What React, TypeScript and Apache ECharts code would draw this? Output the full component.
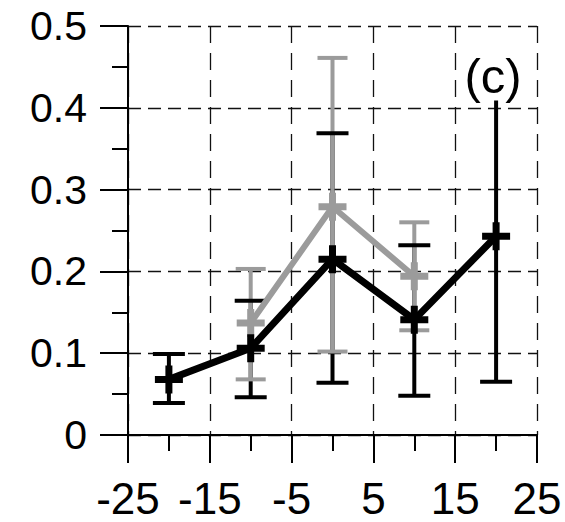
import React, { useEffect, useRef } from "react";
import * as echarts from "echarts";

// x positions and values
const xBlack = [-20, -10, 0, 10, 20];
const yBlack = [0.068, 0.106, 0.215, 0.141, 0.243];
const lowBlack = [0.039, 0.046, 0.064, 0.048, 0.065];
const highBlack = [0.099, 0.164, 0.369, 0.232, 0.42];

const xGray = [-10, 0, 10];
const yGray = [0.137, 0.279, 0.194];
const lowGray = [0.068, 0.102, 0.128];
const highGray = [0.203, 0.461, 0.26];

const panelLabel = "(c)";

const FONT = "'Liberation Sans', Arial, sans-serif";
const BLACK = "#000000";
const GRAY = "#9b9b9b";
const PLUS = "path://M10.5,0H17.5V10.5H28V17.5H17.5V28H10.5V17.5H0V10.5H10.5Z";

function errorSeries(
  xs: number[], lo: number[], hi: number[], color: string, lw: number, capHalf: number, z: number,
  showStem: boolean, showCaps: boolean
) {
  return {
    type: "custom",
    z,
    silent: true,
    encode: { x: 0, y: [1, 2] },
    data: xs.map((x, i) => [x, lo[i], hi[i]]),
    renderItem: (_params: any, api: any) => {
      const x = api.value(0);
      const pLo = api.coord([x, api.value(1)]);
      const pHi = api.coord([x, api.value(2)]);
      const style = { stroke: color, lineWidth: lw };
      const children: any[] = [];
      if (showStem) children.push({ type: "line", shape: { x1: pLo[0], y1: pLo[1], x2: pHi[0], y2: pHi[1] }, style });
      if (showCaps) {
        children.push({ type: "line", shape: { x1: pLo[0] - capHalf, y1: pLo[1], x2: pLo[0] + capHalf, y2: pLo[1] }, style });
        children.push({ type: "line", shape: { x1: pHi[0] - capHalf, y1: pHi[1], x2: pHi[0] + capHalf, y2: pHi[1] }, style });
      }
      return { type: "group", children };
    },
  };
}

export default function App() {
  const ref = useRef<HTMLDivElement>(null);
  useEffect(() => {
    if (!ref.current) return;
    const chart = echarts.init(ref.current, undefined, { renderer: "svg" });
    const axisCommon = {
      type: "value" as const,
      axisLine: { show: true, onZero: false, lineStyle: { color: BLACK, width: 2 } },
      axisTick: { show: true, inside: false, length: 28, lineStyle: { color: BLACK, width: 2 } },
      minorTick: { show: true, splitNumber: 2, length: 16, lineStyle: { color: BLACK, width: 2 } },
    };
    chart.setOption({
      animation: false,
      backgroundColor: "#ffffff",
      grid: { left: 128, top: 26, right: 28, bottom: 87, containLabel: false },
      xAxis: {
        ...axisCommon,
        min: -25,
        max: 25,
        interval: 10,
        splitLine: { show: true, lineStyle: { type: [17, 10], color: "#111", width: 1.3 } },
        axisLabel: { fontSize: 44, color: BLACK, fontFamily: FONT, margin: 41 },
      },
      yAxis: {
        ...axisCommon,
        min: 0,
        max: 0.5,
        interval: 0.1,
        splitLine: { show: true, lineStyle: { type: [13, 7], color: "#111", width: 1.3 } },
        axisLabel: { fontSize: 41, color: BLACK, fontFamily: FONT, margin: 41 },
      },
      series: [
        errorSeries(xBlack, lowBlack, highBlack, BLACK, 4, 16, 1, true, false),
        errorSeries(xGray, lowGray, highGray, GRAY, 4, 15, 2, true, true),
        errorSeries(xBlack, lowBlack, highBlack, BLACK, 4, 16, 3, false, true),
        {
          type: "line",
          z: 4,
          data: xGray.map((x, i) => [x, yGray[i]]),
          lineStyle: { color: GRAY, width: 6 },
          itemStyle: { color: GRAY },
          symbol: PLUS,
          symbolSize: 28,
          showSymbol: true,
        },
        {
          type: "line",
          z: 5,
          data: xBlack.map((x, i) => [x, yBlack[i]]),
          lineStyle: { color: BLACK, width: 7 },
          itemStyle: { color: BLACK },
          symbol: PLUS,
          symbolSize: 28,
          showSymbol: true,
        },
      ],
      graphic: [
        {
          type: "text",
          x: 493,
          y: 76,
          z: 100,
          style: {
            text: panelLabel,
            fontSize: 49,
            fontFamily: FONT,
            fill: BLACK,
            align: "center",
            verticalAlign: "middle",
            backgroundColor: "#ffffff",
            padding: [0, 1],
          },
        },
      ],
    });
    return () => chart.dispose();
  }, []);
  return <div ref={ref} style={{ position: "absolute", left: 0, top: 0, width: 565, height: 522 }} />;
}
